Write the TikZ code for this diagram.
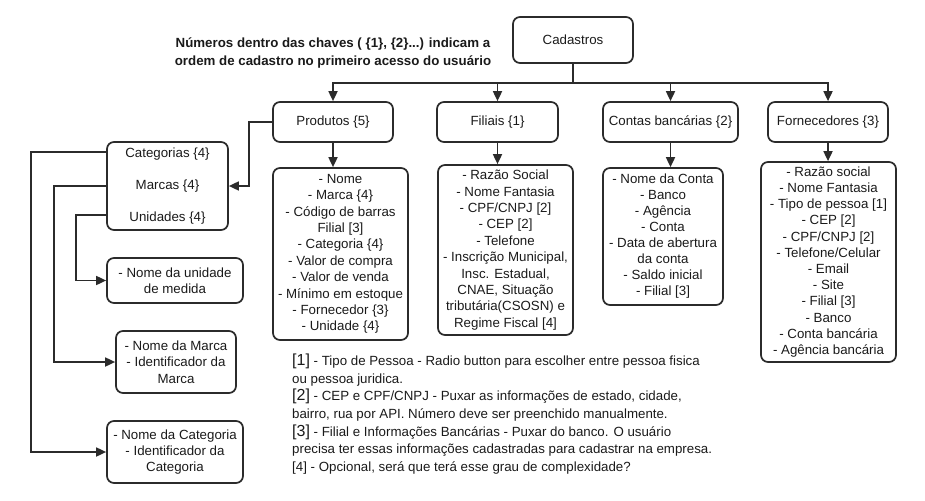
\documentclass[tikz,border=0pt]{standalone}
\usepackage{fontspec}
\setmainfont{Liberation Sans}
\usetikzlibrary{arrows.meta}
\definecolor{linec}{HTML}{2B2B2B}
\definecolor{textc}{HTML}{1A1A1A}
\tikzset{
  box/.style={draw=linec, line width=1.7pt, rounded corners=7pt, align=center,
    inner sep=0pt, text=textc, font=\fontsize{13.3}{16.4}\selectfont},
  arr/.style={draw=linec, line width=1.7pt, -{Triangle[length=10pt,width=9pt]}},
  ln/.style={draw=linec, line width=1.7pt},
}
\begin{document}
\begin{tikzpicture}[x=1pt,y=-1pt]
\useasboundingbox (0,0) rectangle (925,500);

\node[text=textc, align=center, inner sep=0pt, font=\bfseries\fontsize{13.3}{18}\selectfont] (title) at (333,53)
  {Números dentro das chaves ( \{1\}, \{2\}...) indicam a\\ordem de cadastro no primeiro acesso do usuário};

\node[box, minimum width=120pt, minimum height=46pt] (cad) at (573,40) {Cadastros};

\node[box, minimum width=120pt, minimum height=40pt] (prod) at (333,122) {Produtos \{5\}};
\node[box, minimum width=121pt, minimum height=40pt] (fil) at (497.5,122) {Filiais \{1\}};
\node[box, minimum width=135pt, minimum height=40pt] (con) at (670.5,122) {Contas bancárias \{2\}};
\node[box, minimum width=120pt, minimum height=40pt] (forn) at (828,122) {Fornecedores \{3\}};

\node[box, minimum width=135pt, minimum height=172pt] (prodl) at (340.5,254)
  {- Nome\\- Marca \{4\}\\- Código de barras\\Filial [3]\\- Categoria \{4\}\\- Valor de compra\\- Valor de venda\\- Mínimo em estoque\\- Fornecedor \{3\}\\- Unidade \{4\}};
\node[box, minimum width=135pt, minimum height=170pt] (fill) at (505.5,250)
  {- Razão Social\\- Nome Fantasia\\- CPF/CNPJ [2]\\- CEP [2]\\- Telefone\\- Inscrição Municipal,\\Insc. Estadual,\\CNAE, Situação\\tributária(CSOSN) e\\Regime Fiscal [4]};
\node[box, minimum width=120pt, minimum height=137pt, font=\fontsize{13.3}{16}\selectfont] (conl) at (663,236.5)
  {- Nome da Conta\\- Banco\\- Agência\\- Conta\\- Data de abertura\\da conta\\- Saldo inicial\\- Filial [3]};
\node[box, minimum width=135pt, minimum height=200pt, font=\fontsize{13.3}{16.2}\selectfont] (fornl) at (828.5,262)
  {- Razão social\\- Nome Fantasia\\- Tipo de pessoa [1]\\- CEP [2]\\- CPF/CNPJ [2]\\- Telefone/Celular\\- Email\\- Site\\- Filial [3]\\- Banco\\- Conta bancária\\- Agência bancária};

\node[box, minimum width=121pt, minimum height=88pt, font=\fontsize{13.3}{32}\selectfont] (grp) at (167.5,186)
  {Categorias \{4\}\\Marcas \{4\}\\Unidades \{4\}};
\node[box, minimum width=136pt, minimum height=45pt] (unid) at (175,280.5) {- Nome da unidade\\de medida};
\node[box, minimum width=120pt, minimum height=62pt] (marca) at (176,362) {- Nome da Marca\\- Identificador da\\Marca};
\node[box, minimum width=136pt, minimum height=62pt] (categ) at (175,452) {- Nome da Categoria\\- Identificador da\\Categoria};

\node[anchor=north west, inner sep=0pt, align=left, text=textc, font=\fontsize{13.3}{17.6}\selectfont] (notes) at (292,354)
  {{\fontsize{16}{17.6}\selectfont [1]} - Tipo de Pessoa - Radio button para escolher entre pessoa fisica\\
   ou pessoa juridica.\\
   {\fontsize{16}{17.6}\selectfont [2]} - CEP e CPF/CNPJ - Puxar as informações de estado, cidade,\\
   bairro, rua por API. Número deve ser preenchido manualmente.\\
   {\fontsize{16}{17.6}\selectfont [3]} - Filial e Informações Bancárias - Puxar do banco. O usuário\\
   precisa ter essas informações cadastradas para cadastrar na empresa.\\
   {}[4] - Opcional, será que terá esse grau de complexidade?};

\coordinate (bus) at (cad.south |- 0,83);
\draw[ln] (cad.south) -- (bus);
\draw[arr] (bus) -| (prod.north);
\draw[arr] (bus) -| (fil.north);
\draw[arr] (bus) -| (con.north);
\draw[arr] (bus) -| (forn.north);

\draw[arr] (prod.south) -- (prod.south |- prodl.north);
\draw[arr] (fil.south) -- (fil.south |- fill.north);
\draw[arr] (con.south) -- (con.south |- conl.north);
\draw[arr] (forn.south) -- (forn.south |- fornl.north);

\draw[arr] (prod.west) -- ++(-23,0) |- (grp.east);
\draw[arr] ([yshift=34pt]grp.west) -- ++(-75,0) |- (categ.west);
\draw[arr] (grp.west) -- ++(-52,0) |- (marca.west);
\draw[arr] ([yshift=-29pt]grp.west) -- ++(-30,0) |- (unid.west);
\end{tikzpicture}
\end{document}
